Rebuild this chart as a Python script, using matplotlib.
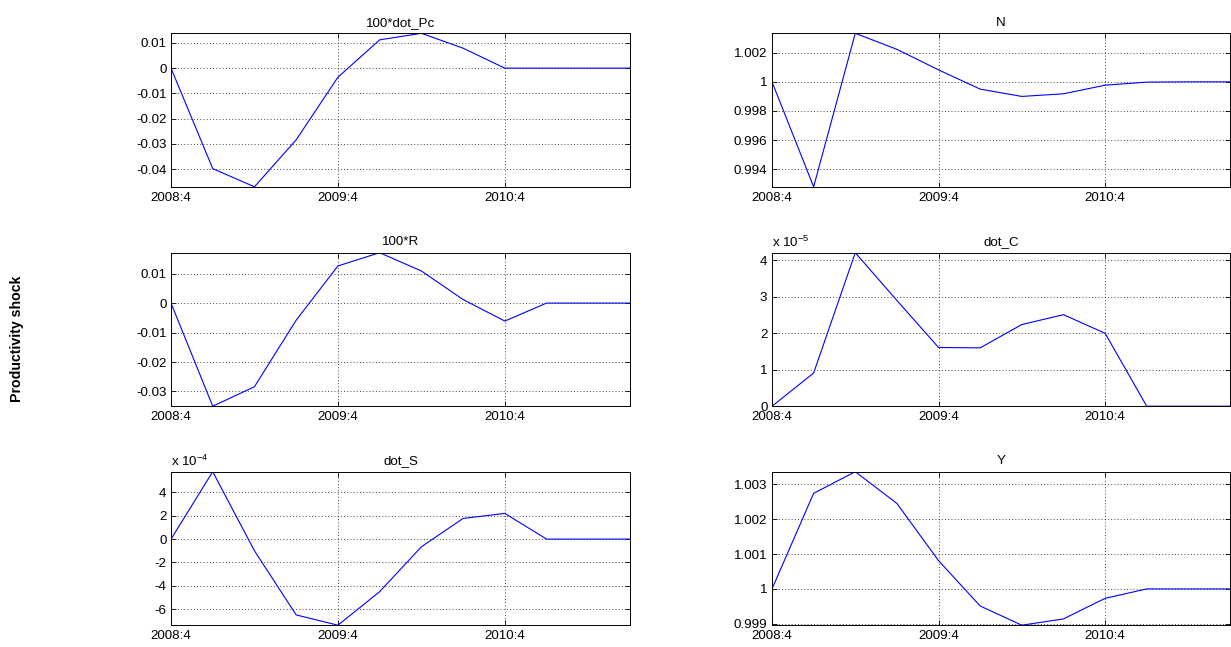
import matplotlib
matplotlib.use("Agg")
import matplotlib.pyplot as plt
import numpy as np

plt.rcParams['font.family'] = ['Liberation Sans', 'DejaVu Sans']
plt.rcParams['axes.unicode_minus'] = False
plt.rcParams['mathtext.fontset'] = 'custom'
plt.rcParams['mathtext.rm'] = 'Liberation Sans'
plt.rcParams['mathtext.it'] = 'Liberation Sans'
plt.rcParams['mathtext.default'] = 'regular'

# ---- data ----
periods = ['2008:4', '2009:1', '2009:2', '2009:3', '2009:4', '2010:1',
           '2010:2', '2010:3', '2010:4', '2011:1', '2011:2', '2011:3']
xtick_labels = ['2008:4', '2009:4', '2010:4']

dot_Pc_100 = [0.0, -0.0398, -0.0470, -0.0284, -0.0036, 0.0112, 0.0138, 0.0079, 0.0, 0.0, 0.0, 0.0]
N = [1.0, 0.9928, 1.00333, 1.00223, 1.00082, 0.99950, 0.99900, 0.99918, 0.99977, 0.99998, 1.0, 1.0]
R_100 = [0.0, -0.0350, -0.0284, -0.0058, 0.0126, 0.0171, 0.0109, 0.0012, -0.0061, 0.0, 0.0, 0.0]
dot_C = [0.0, 0.91e-5, 4.21e-5, 2.9e-5, 1.61e-5, 1.60e-5, 2.24e-5, 2.51e-5, 2.0e-5, 0.0, 0.0, 0.0]
dot_S = [0.0, 5.77e-4, -1.0e-4, -6.49e-4, -7.37e-4, -4.5e-4, -0.66e-4, 1.77e-4, 2.2e-4, 0.0, 0.0, 0.0]
Y = [1.0, 1.00274, 1.00336, 1.00245, 1.00081, 0.99951, 0.99896, 0.99914, 0.99973, 1.0, 1.0, 1.0]

titles = ['100*dot_Pc', 'N', '100*R', 'dot_C', 'dot_S', 'Y']
yticks_Pc = [-0.04, -0.03, -0.02, -0.01, 0, 0.01]
yticks_N = [0.994, 0.996, 0.998, 1, 1.002]
yticks_R = [-0.03, -0.02, -0.01, 0, 0.01]
yticks_C = [0, 1, 2, 3, 4]
yticks_S = [-6, -4, -2, 0, 2, 4]
yticks_Y = [0.999, 1, 1.001, 1.002, 1.003]
scale_C = 1e5
scale_S = 1e4
row_label = 'Productivity shock'

# ---- layout ----
W, H = 1231, 647
fig = plt.figure(figsize=(W / 100, H / 100), dpi=100)

left_x = [171 / W, 772 / W]
widths = [459 / W, 458 / W]
tops = [33.3, 252.7, 471.7]
h_px = 153.5

panels = [
    (0, 0, dot_Pc_100, 1.0, yticks_Pc, None),
    (0, 1, N, 1.0, yticks_N, None),
    (1, 0, R_100, 1.0, yticks_R, None),
    (1, 1, dot_C, scale_C, yticks_C, 'x 10$^{-5}$'),
    (2, 0, dot_S, scale_S, yticks_S, 'x 10$^{-4}$'),
    (2, 1, Y, 1.0, yticks_Y, None),
]

FS = 9.6
x = np.arange(len(periods))
for i, (r, c, vals, sc, yt, mult) in enumerate(panels):
    bottom = (H - tops[r] - h_px) / H
    ax = fig.add_axes([left_x[c], bottom, widths[c], h_px / H])
    v = np.asarray(vals) * sc
    ax.plot(x, v, color='#0000ff', lw=0.8)
    ax.set_xlim(0, len(periods) - 1)
    ax.set_ylim(v.min(), v.max())
    ax.set_xticks([periods.index(p) for p in xtick_labels])
    ax.set_xticklabels(xtick_labels)
    ax.set_yticks(yt)
    ax.set_yticklabels(['%g' % t for t in yt])
    ax.grid(True, color='black', linestyle=(0, (1.4, 3.2)), linewidth=0.5)
    ax.tick_params(direction='in', length=3.3, width=0.6, top=True, right=True,
                   labelsize=FS, colors='black')
    ax.tick_params(axis='y', pad=3.3)
    ax.tick_params(axis='x', pad=3.8)
    for s in ax.spines.values():
        s.set_linewidth(0.7)
    ax.set_title(titles[i], fontsize=FS, pad=5.5)
    if mult:
        ax.text(0.0, 1.02, mult, transform=ax.transAxes, fontsize=FS,
                ha='left', va='bottom')

fig.text(17 / W, 1 - 339 / H, row_label, rotation=90, fontsize=10.2,
         fontweight='bold', ha='center', va='center')

fig.savefig('out.png', dpi=100)
